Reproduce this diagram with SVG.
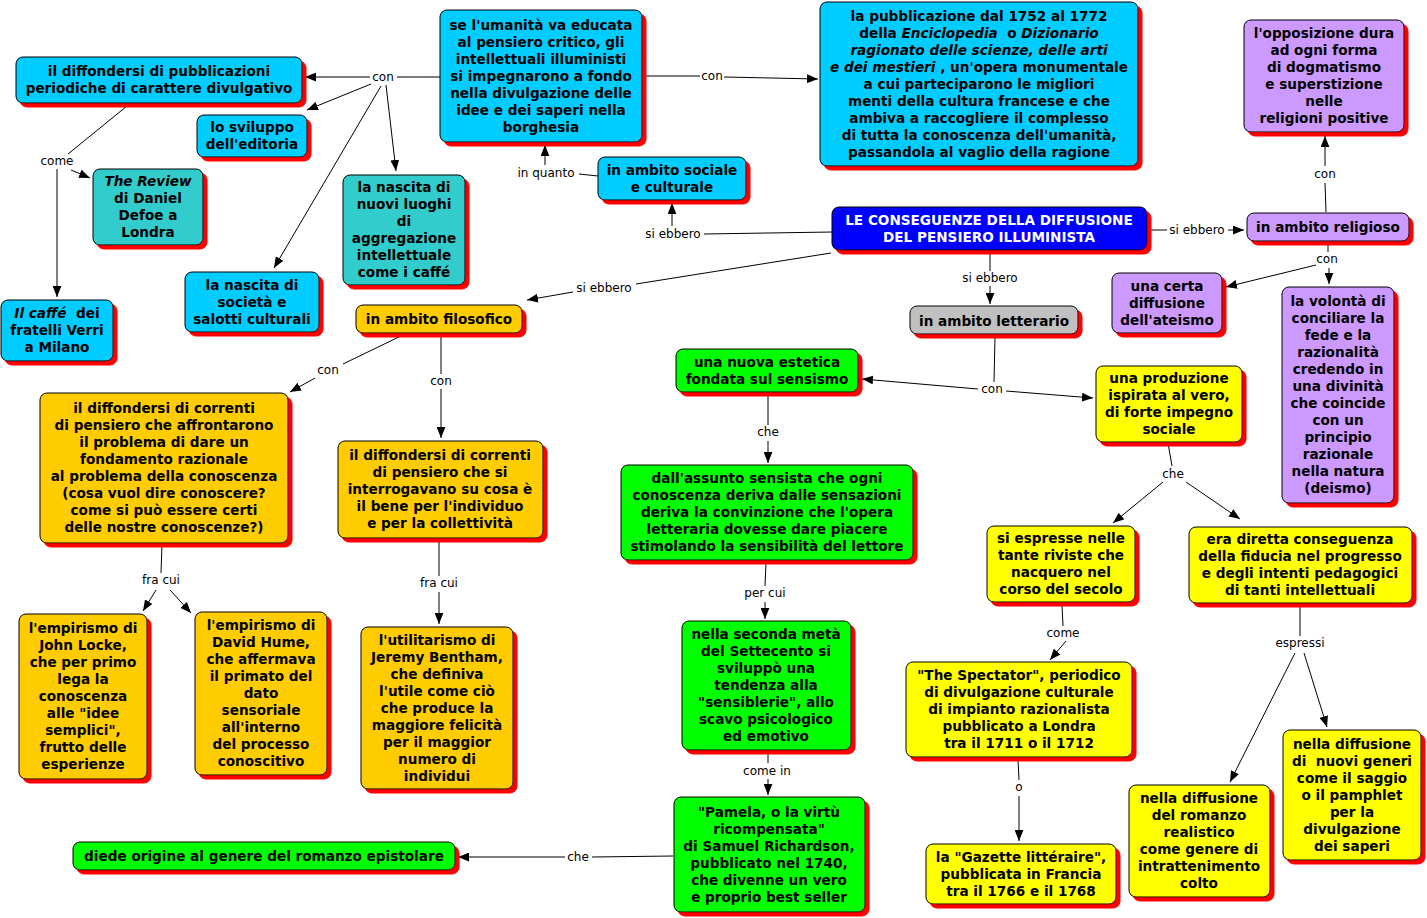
<svg xmlns="http://www.w3.org/2000/svg" width="1427" height="918" viewBox="0 0 1427 918">
<style>
.n rect{stroke:#000;stroke-width:1;filter:url(#sh)}
.t{font-family:"DejaVu Sans",Verdana,sans-serif;font-weight:bold;font-size:13.6px;text-anchor:middle;fill:#000}
.w{fill:#fff}
.l{font-family:"DejaVu Sans",Verdana,sans-serif;font-size:12px;text-anchor:middle;fill:#000}
.c line{stroke:#000;stroke-width:1;fill:none}
.a{marker-end:url(#ar)}
.cy{fill:#00CCFF}.te{fill:#33CCCC}.pu{fill:#CC99FF}.ye{fill:#FFFF00}.gr{fill:#00FF00}.or{fill:#FFCC00}.gy{fill:#C0C0C0}.bl{fill:#0000FF}
.i{font-style:italic}
</style>
<defs>
<filter id="sh" x="-5%" y="-5%" width="120%" height="130%">
<feFlood flood-color="#FF0000"/>
<feComposite in2="SourceAlpha" operator="in"/>
<feOffset dx="4" dy="4" result="s"/>
<feMerge><feMergeNode in="s"/><feMergeNode in="SourceGraphic"/></feMerge>
</filter>
<marker id="ar" viewBox="0 0 10 8" refX="10" refY="4" markerWidth="11" markerHeight="9" markerUnits="userSpaceOnUse" orient="auto"><path d="M0,0 L10,4 L0,8 z" fill="#000"/></marker>
</defs>
<rect width="1427" height="918" fill="#fff"/>

<g id="connectors" class="c">
<line x1="831" y1="253" x2="636" y2="284"/>
<line class="a" x1="573" y1="292" x2="527" y2="300"/>
<line x1="832" y1="232" x2="704" y2="234"/>
<line class="a" x1="672" y1="226" x2="672" y2="203"/>
<line x1="598" y1="176" x2="579" y2="174"/>
<line class="a" x1="545" y1="165" x2="545" y2="145"/>
<line x1="642" y1="76" x2="700" y2="76"/>
<line class="a" x1="724" y1="77" x2="818" y2="79"/>
<line x1="440" y1="77" x2="397" y2="77"/>
<line class="a" x1="370" y1="77" x2="305" y2="77"/>
<line class="a" x1="371" y1="84" x2="307" y2="110"/>
<line class="a" x1="381" y1="86" x2="274" y2="268"/>
<line class="a" x1="386" y1="85" x2="396" y2="171"/>
<line x1="127" y1="106" x2="68" y2="154"/>
<line class="a" x1="71" y1="170" x2="90" y2="178"/>
<line class="a" x1="57" y1="169" x2="57" y2="297"/>
<line x1="405" y1="334" x2="343" y2="364"/>
<line class="a" x1="315" y1="378" x2="290" y2="392"/>
<line x1="441" y1="334" x2="441" y2="374"/>
<line class="a" x1="441" y1="389" x2="441" y2="438"/>
<line x1="162" y1="544" x2="161" y2="573"/>
<line class="a" x1="156" y1="590" x2="143" y2="611"/>
<line class="a" x1="170" y1="590" x2="191" y2="613"/>
<line x1="439" y1="542" x2="439" y2="576"/>
<line class="a" x1="439" y1="592" x2="439" y2="624"/>
<line x1="990" y1="251" x2="990" y2="271"/>
<line class="a" x1="990" y1="286" x2="990" y2="304"/>
<line x1="1148" y1="230" x2="1167" y2="230"/>
<line class="a" x1="1228" y1="230" x2="1244" y2="230"/>
<line x1="1326" y1="212" x2="1325" y2="183"/>
<line class="a" x1="1325" y1="166" x2="1325" y2="136"/>
<line x1="1328" y1="244" x2="1328" y2="252"/>
<line class="a" x1="1316" y1="265" x2="1226" y2="287"/>
<line class="a" x1="1329" y1="268" x2="1329" y2="284"/>
<line x1="995" y1="337" x2="994" y2="382"/>
<line class="a" x1="978" y1="389" x2="862" y2="379"/>
<line class="a" x1="1006" y1="391" x2="1093" y2="398"/>
<line x1="768" y1="395" x2="768" y2="425"/>
<line class="a" x1="768" y1="441" x2="768" y2="463"/>
<line x1="766" y1="563" x2="765" y2="586"/>
<line class="a" x1="765" y1="602" x2="765" y2="619"/>
<line x1="768" y1="753" x2="768" y2="763"/>
<line class="a" x1="768" y1="779" x2="768" y2="795"/>
<line x1="673" y1="856" x2="592" y2="857"/>
<line class="a" x1="565" y1="857" x2="458" y2="857"/>
<line x1="1168" y1="443" x2="1172" y2="466"/>
<line class="a" x1="1163" y1="482" x2="1113" y2="523"/>
<line class="a" x1="1186" y1="482" x2="1240" y2="519"/>
<line x1="1062" y1="605" x2="1063" y2="626"/>
<line class="a" x1="1066" y1="641" x2="1050" y2="660"/>
<line x1="1018" y1="760" x2="1019" y2="780"/>
<line class="a" x1="1019" y1="796" x2="1019" y2="841"/>
<line x1="1300" y1="606" x2="1300" y2="636"/>
<line class="a" x1="1295" y1="653" x2="1230" y2="782"/>
<line class="a" x1="1304" y1="653" x2="1327" y2="727"/>
</g>

<g id="labels">
<text class="l" x="604" y="292">si ebbero</text>
<text class="l" x="673" y="238">si ebbero</text>
<text class="l" x="546" y="177">in quanto</text>
<text class="l" x="712" y="80">con</text>
<text class="l" x="383" y="81">con</text>
<text class="l" x="57" y="165">come</text>
<text class="l" x="328" y="374">con</text>
<text class="l" x="441" y="385">con</text>
<text class="l" x="161" y="584">fra cui</text>
<text class="l" x="439" y="587">fra cui</text>
<text class="l" x="990" y="282">si ebbero</text>
<text class="l" x="1197" y="234">si ebbero</text>
<text class="l" x="1325" y="178">con</text>
<text class="l" x="1327" y="263">con</text>
<text class="l" x="992" y="393">con</text>
<text class="l" x="768" y="436">che</text>
<text class="l" x="765" y="597">per cui</text>
<text class="l" x="767" y="775">come in</text>
<text class="l" x="578" y="861">che</text>
<text class="l" x="1173" y="478">che</text>
<text class="l" x="1063" y="637">come</text>
<text class="l" x="1019" y="791">o</text>
<text class="l" x="1300" y="647">espressi</text>
</g>

<g id="n1" class="n"><rect class="cy" x="16" y="57" width="286" height="46" rx="7"/>
<text class="t" x="159" y="76"><tspan x="159">il diffondersi di pubblicazioni</tspan><tspan x="159" dy="17">periodiche di carattere divulgativo</tspan></text></g>

<g id="n2" class="n"><rect class="cy" x="197" y="115" width="110" height="42" rx="7"/>
<text class="t" x="252" y="132"><tspan x="252">lo sviluppo</tspan><tspan x="252" dy="17">dell'editoria</tspan></text></g>

<g id="n3" class="n"><rect class="te" x="93" y="169" width="110" height="76" rx="7"/>
<text class="t" x="148" y="186"><tspan x="148" class="i">The Review</tspan><tspan x="148" dy="17">di Daniel</tspan><tspan x="148" dy="17">Defoe a</tspan><tspan x="148" dy="17">Londra</tspan></text></g>

<g id="n4" class="n"><rect class="cy" x="1" y="300" width="112" height="61" rx="7"/>
<text class="t" x="57" y="318"><tspan x="57"><tspan class="i">Il caffé</tspan>&#160; dei</tspan><tspan x="57" dy="17">fratelli Verri</tspan><tspan x="57" dy="17">a Milano</tspan></text></g>

<g id="n5" class="n"><rect class="cy" x="185" y="272" width="134" height="60" rx="7"/>
<text class="t" x="252" y="289.5"><tspan x="252">la nascita di</tspan><tspan x="252" dy="17">società e</tspan><tspan x="252" dy="17">salotti culturali</tspan></text></g>

<g id="n6" class="n"><rect class="te" x="343" y="175" width="122" height="110" rx="7"/>
<text class="t" x="404" y="192"><tspan x="404">la nascita di</tspan><tspan x="404" dy="17">nuovi luoghi</tspan><tspan x="404" dy="17">di</tspan><tspan x="404" dy="17">aggregazione</tspan><tspan x="404" dy="17">intellettuale</tspan><tspan x="404" dy="17">come i caffé</tspan></text></g>

<g id="n7" class="n"><rect class="cy" x="440" y="10" width="202" height="132" rx="7"/>
<text class="t" x="541" y="29.5"><tspan x="541">se l'umanità va educata</tspan><tspan x="541" dy="17">al pensiero critico, gli</tspan><tspan x="541" dy="17">intellettuali illuministi</tspan><tspan x="541" dy="17">si impegnarono a fondo</tspan><tspan x="541" dy="17">nella divulgazione delle</tspan><tspan x="541" dy="17">idee e dei saperi nella</tspan><tspan x="541" dy="17">borghesia</tspan></text></g>

<g id="n8" class="n"><rect class="cy" x="820" y="2" width="318" height="164" rx="7"/>
<text class="t" x="979" y="20.5"><tspan x="979">la pubblicazione dal 1752 al 1772</tspan><tspan x="979" dy="17">della <tspan class="i">Enciclopedia</tspan>&#160; o <tspan class="i">Dizionario</tspan></tspan><tspan x="979" dy="17" class="i">ragionato delle scienze, delle arti</tspan><tspan x="979" dy="17"><tspan class="i">e dei mestieri</tspan> , un'opera monumentale</tspan><tspan x="979" dy="17">a cui parteciparono le migliori</tspan><tspan x="979" dy="17">menti della cultura francese e che</tspan><tspan x="979" dy="17">ambiva a raccogliere il complesso</tspan><tspan x="979" dy="17">di tutta la conoscenza dell'umanità,</tspan><tspan x="979" dy="17">passandola al vaglio della ragione</tspan></text></g>

<g id="n9" class="n"><rect class="bl" x="832" y="207" width="315" height="43" rx="7"/>
<text class="t w" x="989" y="224.5"><tspan x="989">LE CONSEGUENZE DELLA DIFFUSIONE</tspan><tspan x="989" dy="17">DEL PENSIERO ILLUMINISTA</tspan></text></g>

<g id="n10" class="n"><rect class="cy" x="598" y="157" width="148" height="43" rx="7"/>
<text class="t" x="672" y="174.5"><tspan x="672">in ambito sociale</tspan><tspan x="672" dy="17">e culturale</tspan></text></g>

<g id="n11" class="n"><rect class="pu" x="1244" y="20" width="160" height="112" rx="7"/>
<text class="t" x="1324" y="38"><tspan x="1324">l'opposizione dura</tspan><tspan x="1324" dy="17">ad ogni forma</tspan><tspan x="1324" dy="17">di dogmatismo</tspan><tspan x="1324" dy="17">e superstizione</tspan><tspan x="1324" dy="17">nelle</tspan><tspan x="1324" dy="17">religioni positive</tspan></text></g>

<g id="n12" class="n"><rect class="pu" x="1247" y="213" width="162" height="28" rx="7"/>
<text class="t" x="1328" y="231.5">in ambito religioso</text></g>

<g id="n13" class="n"><rect class="pu" x="1112" y="273" width="110" height="60" rx="7"/>
<text class="t" x="1167" y="290.5"><tspan x="1167">una certa</tspan><tspan x="1167" dy="17">diffusione</tspan><tspan x="1167" dy="17">dell'ateismo</tspan></text></g>

<g id="n14" class="n"><rect class="pu" x="1282" y="287" width="112" height="216" rx="7"/>
<text class="t" x="1338" y="306"><tspan x="1338">la volontà di</tspan><tspan x="1338" dy="17">conciliare la</tspan><tspan x="1338" dy="17">fede e la</tspan><tspan x="1338" dy="17">razionalità</tspan><tspan x="1338" dy="17">credendo in</tspan><tspan x="1338" dy="17">una divinità</tspan><tspan x="1338" dy="17">che coincide</tspan><tspan x="1338" dy="17">con un</tspan><tspan x="1338" dy="17">principio</tspan><tspan x="1338" dy="17">razionale</tspan><tspan x="1338" dy="17">nella natura</tspan><tspan x="1338" dy="17">(deismo)</tspan></text></g>

<g id="n15" class="n"><rect class="gy" x="910" y="306" width="168" height="28" rx="7"/>
<text class="t" x="994" y="325.5">in ambito letterario</text></g>

<g id="n16" class="n"><rect class="gr" x="676" y="349" width="182" height="43" rx="7"/>
<text class="t" x="767" y="366.5"><tspan x="767">una nuova estetica</tspan><tspan x="767" dy="17">fondata sul sensismo</tspan></text></g>

<g id="n17" class="n"><rect class="ye" x="1096" y="366" width="146" height="76" rx="7"/>
<text class="t" x="1169" y="383"><tspan x="1169">una produzione</tspan><tspan x="1169" dy="17">ispirata al vero,</tspan><tspan x="1169" dy="17">di forte impegno</tspan><tspan x="1169" dy="17">sociale</tspan></text></g>

<g id="n18" class="n"><rect class="gr" x="621" y="465" width="292" height="95" rx="7"/>
<text class="t" x="767" y="483"><tspan x="767">dall'assunto sensista che ogni</tspan><tspan x="767" dy="17">conoscenza deriva dalle sensazioni</tspan><tspan x="767" dy="17">deriva la convinzione che l'opera</tspan><tspan x="767" dy="17">letteraria dovesse dare piacere</tspan><tspan x="767" dy="17">stimolando la sensibilità del lettore</tspan></text></g>

<g id="n19" class="n"><rect class="ye" x="987" y="526" width="148" height="76" rx="7"/>
<text class="t" x="1061" y="543"><tspan x="1061">si espresse nelle</tspan><tspan x="1061" dy="17">tante riviste che</tspan><tspan x="1061" dy="17">nacquero nel</tspan><tspan x="1061" dy="17">corso del secolo</tspan></text></g>

<g id="n20" class="n"><rect class="ye" x="1189" y="527" width="223" height="76" rx="7"/>
<text class="t" x="1300" y="544"><tspan x="1300">era diretta conseguenza</tspan><tspan x="1300" dy="17">della fiducia nel progresso</tspan><tspan x="1300" dy="17">e degli intenti pedagogici</tspan><tspan x="1300" dy="17">di tanti intellettuali</tspan></text></g>

<g id="n21" class="n"><rect class="gr" x="682" y="621" width="169" height="129" rx="7"/>
<text class="t" x="766" y="639"><tspan x="766">nella seconda metà</tspan><tspan x="766" dy="17">del Settecento si</tspan><tspan x="766" dy="17">sviluppò una</tspan><tspan x="766" dy="17">tendenza alla</tspan><tspan x="766" dy="17">"sensiblerie", allo</tspan><tspan x="766" dy="17">scavo psicologico</tspan><tspan x="766" dy="17">ed emotivo</tspan></text></g>

<g id="n22" class="n"><rect class="ye" x="906" y="662" width="226" height="95" rx="7"/>
<text class="t" x="1019" y="680"><tspan x="1019">"The Spectator", periodico</tspan><tspan x="1019" dy="17">di divulgazione culturale</tspan><tspan x="1019" dy="17">di impianto razionalista</tspan><tspan x="1019" dy="17">pubblicato a Londra</tspan><tspan x="1019" dy="17">tra il 1711 o il 1712</tspan></text></g>

<g id="n23" class="n"><rect class="gr" x="674" y="797" width="191" height="115" rx="7"/>
<text class="t" x="769" y="816.5"><tspan x="769">"Pamela, o la virtù</tspan><tspan x="769" dy="17">ricompensata"</tspan><tspan x="769" dy="17">di Samuel Richardson,</tspan><tspan x="769" dy="17">pubblicato nel 1740,</tspan><tspan x="769" dy="17">che divenne un vero</tspan><tspan x="769" dy="17">e proprio best seller</tspan></text></g>

<g id="n24" class="n"><rect class="ye" x="926" y="844" width="190" height="60" rx="7"/>
<text class="t" x="1021" y="861.5"><tspan x="1021">la "Gazette littéraire",</tspan><tspan x="1021" dy="17">pubblicata in Francia</tspan><tspan x="1021" dy="17">tra il 1766 e il 1768</tspan></text></g>

<g id="n25" class="n"><rect class="ye" x="1129" y="785" width="141" height="112" rx="7"/>
<text class="t" x="1199" y="803"><tspan x="1199">nella diffusione</tspan><tspan x="1199" dy="17">del romanzo</tspan><tspan x="1199" dy="17">realistico</tspan><tspan x="1199" dy="17">come genere di</tspan><tspan x="1199" dy="17">intrattenimento</tspan><tspan x="1199" dy="17">colto</tspan></text></g>

<g id="n26" class="n"><rect class="ye" x="1283" y="730" width="138" height="130" rx="7"/>
<text class="t" x="1352" y="748.5"><tspan x="1352">nella diffusione</tspan><tspan x="1352" dy="17">di&#160; nuovi generi</tspan><tspan x="1352" dy="17">come il saggio</tspan><tspan x="1352" dy="17">o il pamphlet</tspan><tspan x="1352" dy="17">per la</tspan><tspan x="1352" dy="17">divulgazione</tspan><tspan x="1352" dy="17">dei saperi</tspan></text></g>

<g id="n27" class="n"><rect class="gr" x="73" y="842" width="382" height="28" rx="7"/>
<text class="t" x="264" y="860.5">diede origine al genere del romanzo epistolare</text></g>

<g id="n28" class="n"><rect class="or" x="356" y="305" width="166" height="28" rx="7"/>
<text class="t" x="439" y="323.5">in ambito filosofico</text></g>

<g id="n29" class="n"><rect class="or" x="40" y="393" width="248" height="150" rx="7"/>
<text class="t" x="164" y="413"><tspan x="164">il diffondersi di correnti</tspan><tspan x="164" dy="17">di pensiero che affrontarono</tspan><tspan x="164" dy="17">il problema di dare un</tspan><tspan x="164" dy="17">fondamento razionale</tspan><tspan x="164" dy="17">al problema della conoscenza</tspan><tspan x="164" dy="17">(cosa vuol dire conoscere?</tspan><tspan x="164" dy="17">come si può essere certi</tspan><tspan x="164" dy="17">delle nostre conoscenze?)</tspan></text></g>

<g id="n30" class="n"><rect class="or" x="338" y="441" width="205" height="97" rx="7"/>
<text class="t" x="440" y="460"><tspan x="440">il diffondersi di correnti</tspan><tspan x="440" dy="17">di pensiero che si</tspan><tspan x="440" dy="17">interrogavano su cosa è</tspan><tspan x="440" dy="17">il bene per l'individuo</tspan><tspan x="440" dy="17">e per la collettività</tspan></text></g>

<g id="n31" class="n"><rect class="or" x="19" y="614" width="128" height="165" rx="7"/>
<text class="t" x="83" y="633"><tspan x="83">l'empirismo di</tspan><tspan x="83" dy="17">John Locke,</tspan><tspan x="83" dy="17">che per primo</tspan><tspan x="83" dy="17">lega la</tspan><tspan x="83" dy="17">conoscenza</tspan><tspan x="83" dy="17">alle "idee</tspan><tspan x="83" dy="17">semplici",</tspan><tspan x="83" dy="17">frutto delle</tspan><tspan x="83" dy="17">esperienze</tspan></text></g>

<g id="n32" class="n"><rect class="or" x="195" y="612" width="132" height="163" rx="7"/>
<text class="t" x="261" y="630"><tspan x="261">l'empirismo di</tspan><tspan x="261" dy="17">David Hume,</tspan><tspan x="261" dy="17">che affermava</tspan><tspan x="261" dy="17">il primato del</tspan><tspan x="261" dy="17">dato</tspan><tspan x="261" dy="17">sensoriale</tspan><tspan x="261" dy="17">all'interno</tspan><tspan x="261" dy="17">del processo</tspan><tspan x="261" dy="17">conoscitivo</tspan></text></g>

<g id="n33" class="n"><rect class="or" x="361" y="627" width="152" height="162" rx="7"/>
<text class="t" x="437" y="644.5"><tspan x="437">l'utilitarismo di</tspan><tspan x="437" dy="17">Jeremy Bentham,</tspan><tspan x="437" dy="17">che definiva</tspan><tspan x="437" dy="17">l'utile come ciò</tspan><tspan x="437" dy="17">che produce la</tspan><tspan x="437" dy="17">maggiore felicità</tspan><tspan x="437" dy="17">per il maggior</tspan><tspan x="437" dy="17">numero di</tspan><tspan x="437" dy="17">individui</tspan></text></g>
</svg>
